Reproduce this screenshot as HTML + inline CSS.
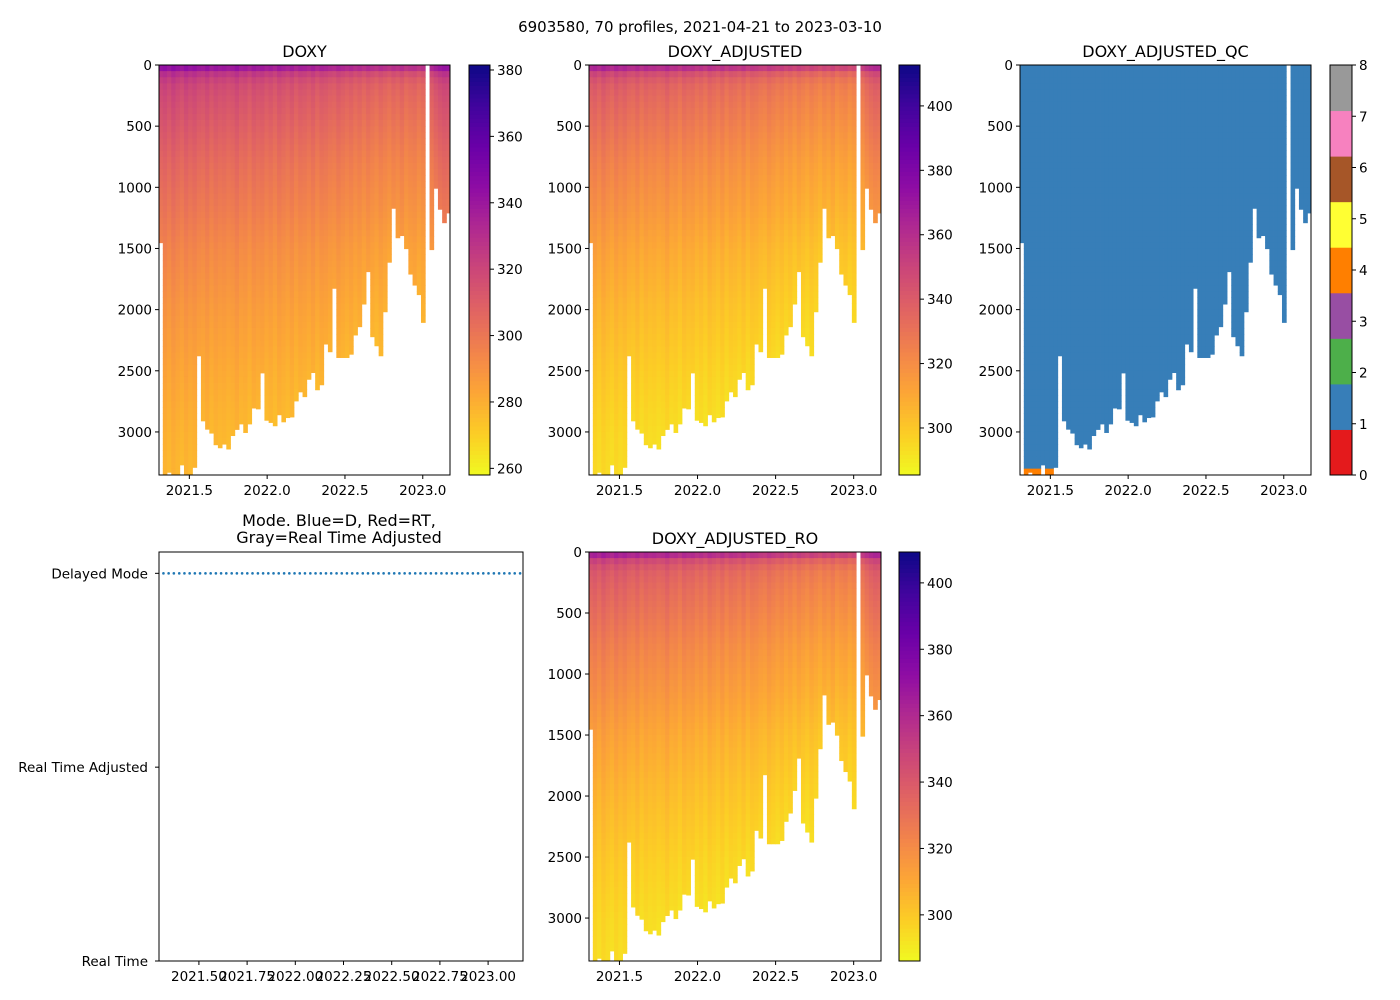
<!DOCTYPE html>
<html><head><meta charset="utf-8"><style>
body{margin:0;background:#fff;}
svg{display:block;font-family:"DejaVu Sans","Liberation Sans",sans-serif;}
</style></head><body>
<svg id="fig" width="1400" height="1000" viewBox="0 0 1400 1000">
<rect width="1400" height="1000" fill="#fff"/>
<text x="700" y="32" font-size="15" text-anchor="middle">6903580, 70 profiles, 2021-04-21 to 2023-03-10</text>
</svg>
<script>
const dates=[2021.316,2021.343,2021.370,2021.398,2021.425,2021.452,2021.479,2021.506,2021.534,2021.561,2021.588,2021.615,2021.642,2021.670,2021.697,2021.724,2021.751,2021.778,2021.806,2021.833,2021.860,2021.887,2021.914,2021.942,2021.969,2021.996,2022.023,2022.050,2022.078,2022.105,2022.132,2022.159,2022.186,2022.214,2022.241,2022.268,2022.295,2022.322,2022.350,2022.377,2022.404,2022.431,2022.458,2022.486,2022.513,2022.540,2022.567,2022.594,2022.622,2022.649,2022.676,2022.703,2022.730,2022.758,2022.785,2022.812,2022.839,2022.866,2022.894,2022.921,2022.948,2022.975,2023.002,2023.030,2023.057,2023.084,2023.111,2023.138,2023.166];
const maxDepth=[1453,3345,3330,3352,3345,3270,3345,3345,3290,2378,2910,2978,3010,3105,3130,3100,3140,3030,2980,2935,3005,2935,2805,2812,2518,2905,2923,2950,2860,2918,2883,2878,2747,2673,2712,2570,2515,2656,2615,2282,2345,1826,2392,2392,2392,2365,2208,2140,1955,1690,2222,2296,2378,2018,1613,1172,1413,1395,1502,1710,1800,1878,2105,0,1510,1008,1180,1290,1210];
const depthLevels=[0,30,80,150,300,450,600,800,1000,1200,1500,2000,2500,3000,3400];
const meanDoxy=[358,333,323,316,312,309,306,302,299,296,291,285,280,276,274];
const offsets=[5,7,4,8,5,3,7,4,6,3,2,5,1,4,2,3,1,2,5,1,2,-1,3,1,2,-1,1,-2,2,0,-2,1,-3,0,-1,-3,0,-4,-1,-2,-4,-5,-2,-4,-6,-4,-7,-5,-8,-5,-7,-9,-6,-8,-10,-7,-9,-6,-10,-8,-7,-10,-8,0,-4,0,3,5,4];
const adjGain=1.06;
const modeVals=dates.map(()=>2);
const cb1Ticks=[260,280,300,320,340,360,380];
const cb2Ticks=[300,320,340,360,380,400];
const qcColors=['#e41a1c','#377eb8','#4daf4a','#984ea3','#ff7f00','#ffff33','#a65628','#f781bf','#999999'];
const NS='http://www.w3.org/2000/svg';
const svg=document.getElementById('fig');
function el(tag,attrs,parent){const e=document.createElementNS(NS,tag);for(const k in attrs)e.setAttribute(k,attrs[k]);(parent||svg).appendChild(e);return e;}
const plasma=[[13,8,135],[65,4,157],[106,0,168],[143,13,164],[177,42,144],[204,71,120],[225,100,98],[242,132,75],[252,166,54],[252,206,37],[240,249,33]];
function plasmaR(t){t=Math.max(0,Math.min(1,1-t));const f=t*10,i=Math.min(9,Math.floor(f)),r=f-i;const a=plasma[i],b=plasma[i+1];return `rgb(${a.map((v,k)=>Math.round(v+(b[k]-v)*r)).join(',')})`;}
function interp(d){for(let i=1;i<depthLevels.length;i++){if(d<=depthLevels[i]){const r=(d-depthLevels[i-1])/(depthLevels[i]-depthLevels[i-1]);return meanDoxy[i-1]+(meanDoxy[i]-meanDoxy[i-1])*r;}}return meanDoxy[meanDoxy.length-1];}
const XMIN=2021.305,XMAX=2023.175,DMAX=3352;
function colEdges(i){const l=i===0?dates[0]-(dates[1]-dates[0])/2:(dates[i-1]+dates[i])/2;const r=i===dates.length-1?dates[i]+(dates[i]-dates[i-1])/2:(dates[i]+dates[i+1])/2;return [Math.max(XMIN,l),Math.min(XMAX,r)];}
function panel(name,x0,y0,w,h,title,kind,vmin,vmax){
  const g=el('g',{}),sx=v=>x0+(v-XMIN)/(XMAX-XMIN)*w,sy=d=>y0+d/DMAX*h;
  
  const t=el('text',{x:x0+w/2,y:y0-8,'font-size':16,'text-anchor':'middle'},g);t.textContent=title;
  
  const BIN=50;
  dates.forEach((dt,i)=>{const [l,r]=colEdges(i);const md=Math.min(maxDepth[i],DMAX);if(md<=0)return;
    for(let d=0;d<md;d+=BIN){const d2=Math.min(md,d+BIN);let fill;
      if(kind==='qc'){fill=(d>=3300&&i>=1&&i<=8)?qcColors[4]:qcColors[1];}
      else{const wt=1-0.4*Math.min(1,d/3000);let v=interp(d+BIN/2)+offsets[i]*wt;if(kind==='adj')v*=adjGain;fill=plasmaR((v-vmin)/(vmax-vmin));}
      const c=el('rect',{x:sx(l).toFixed(2),y:sy(d).toFixed(2),width:(sx(r)-sx(l)+0.4).toFixed(2),height:(sy(d2)-sy(d)+0.4).toFixed(2),fill:fill},g);
      }});
  const fr=el('rect',{x:x0,y:y0,width:w,height:h,fill:'none',stroke:'#000','stroke-width':1},g);
  
  for(let d=0;d<=3000;d+=500){const y=sy(d);el('line',{x1:x0-4,x2:x0,y1:y,y2:y,stroke:'#000'},g);const tl=el('text',{x:x0-7,y:y+5,'font-size':13.5,'text-anchor':'end'},g);tl.textContent=d;
    }
  [2021.5,2022.0,2022.5,2023.0].forEach(v=>{const x=sx(v);el('line',{x1:x,x2:x,y1:y0+h,y2:y0+h+4,stroke:'#000'},g);const tl=el('text',{x:x,y:y0+h+20,'font-size':13.5,'text-anchor':'middle'},g);tl.textContent=v.toFixed(1);
    });
}
function colorbar(name,x,y0,w,h,vmin,vmax,ticks){
  const g=el('g',{});
  const N=100;for(let k=0;k<N;k++){el('rect',{x:x,y:y0+h-(k+1)*h/N,width:w,height:h/N+0.5,fill:plasmaR((k+0.5)/N)},g);}
  el('rect',{x:x,y:y0,width:w,height:h,fill:'none',stroke:'#000'},g);
  ticks.forEach(v=>{const y=y0+h-(v-vmin)/(vmax-vmin)*h;el('line',{x1:x+w,x2:x+w+4,y1:y,y2:y,stroke:'#000'},g);const t=el('text',{x:x+w+7,y:y+5,'font-size':13.5},g);t.textContent=v;
    });
}
panel('doxy',159,65,291,410,'DOXY','raw',258,381.5);
colorbar('doxy-colorbar',469,65,21,410,258,381.5,cb1Ticks);
panel('doxy-adjusted',589,65,292,410,'DOXY_ADJUSTED','adj',285.4,412.7);
colorbar('doxy-adjusted-colorbar',899,65,21,410,285.4,412.7,cb2Ticks);
panel('doxy-adjusted-qc',1020,65,291,410,'DOXY_ADJUSTED_QC','qc');
(function(){const g=el('g',{});
  const x=1330,y0=65,h=410,w=22;qcColors.forEach((c,k)=>{el('rect',{x:x,y:y0+h-(k+1)*h/9,width:w,height:h/9+0.5,fill:c},g);});
  el('rect',{x:x,y:y0,width:w,height:h,fill:'none',stroke:'#000'},g);
  for(let v=0;v<=8;v++){const y=y0+h-v*h/8;el('line',{x1:x+w,x2:x+w+4,y1:y,y2:y,stroke:'#000'},g);const t=el('text',{x:x+w+7,y:y+5,'font-size':13.5},g);t.textContent=v;
    }})();
panel('doxy-adjusted-ro',589,552,292,409,'DOXY_ADJUSTED_RO','adj',286.1,409.3);
colorbar('doxy-adjusted-ro-colorbar',899,552,21,409,286.1,409.3,cb2Ticks);
(function(){const x0=159,y0=552,w=364,h=409,XM0=2021.293,XM1=2023.181;
  const sx=v=>x0+(v-XM0)/(XM1-XM0)*w,sy=m=>y0+h-m/2.11*h;
  const g=el('g',{});
  const t1=el('text',{x:x0+w/2-2,y:526,'font-size':16,'text-anchor':'middle'},g);t1.textContent='Mode. Blue=D, Red=RT,';
  
  const t2=el('text',{x:x0+w/2-2,y:543,'font-size':16,'text-anchor':'middle'},g);t2.textContent='Gray=Real Time Adjusted';
  
  el('rect',{x:x0,y:y0,width:w,height:h,fill:'none',stroke:'#000'},g);
  dates.forEach((d,i)=>{const c=el('circle',{cx:sx(d),cy:sy(modeVals[i]),r:1.3,fill:'#1f77b4'},g);
    });
  [['Delayed Mode',2],['Real Time Adjusted',1],['Real Time',0]].forEach(([lab,v])=>{const y=sy(v);el('line',{x1:x0-4,x2:x0,y1:y,y2:y,stroke:'#000'},g);const t=el('text',{x:x0-11,y:y+5,'font-size':13.5,'text-anchor':'end'},g);t.textContent=lab;
    });
  [2021.5,2021.75,2022.0,2022.25,2022.5,2022.75,2023.0].forEach(v=>{const x=sx(v);el('line',{x1:x,x2:x,y1:y0+h,y2:y0+h+4,stroke:'#000'},g);const t=el('text',{x:x,y:y0+h+20,'font-size':13.5,'text-anchor':'middle'},g);t.textContent=v.toFixed(2);
    });
})();
</script>
</body></html>
